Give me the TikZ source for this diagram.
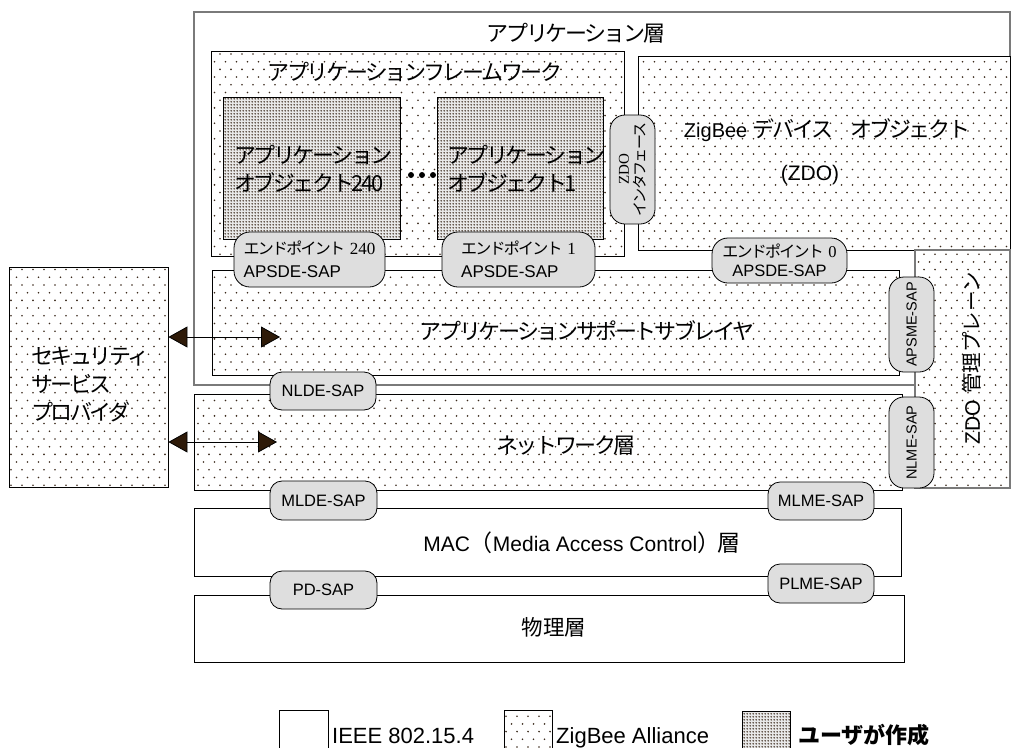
\documentclass[tikz,border=0pt]{standalone}
\usepackage{fontspec}
\setmainfont{Liberation Sans}
\newfontfamily\jp{Noto Sans CJK JP}[LetterSpace=-11]
\newfontfamily\jpw{Noto Sans CJK JP}
\newfontfamily\tms{Liberation Serif}
\usetikzlibrary{patterns,arrows.meta}

\definecolor{sapgray}{HTML}{DEDEDE}
\definecolor{dotbrown}{HTML}{3B2A1C}
\definecolor{framegray}{HTML}{7A7A7A}
\definecolor{arrowbrown}{HTML}{2E1A08}

% dot patterns of the layer boxes
\pgfdeclarepatternformonly{sparsedots}{\pgfqpoint{-1pt}{-1pt}}{\pgfqpoint{12pt}{16pt}}{\pgfqpoint{11pt}{15.4pt}}{%
  \pgfpathcircle{\pgfqpoint{0pt}{0pt}}{0.9pt}%
  \pgfpathcircle{\pgfqpoint{5.5pt}{7.7pt}}{0.9pt}%
  \pgfusepath{fill}}
\pgfdeclarepatternformonly{densedots}{\pgfqpoint{-0.5pt}{-0.5pt}}{\pgfqpoint{2.5pt}{2.5pt}}{\pgfqpoint{3pt}{3pt}}{%
  \pgfpathcircle{\pgfqpoint{1pt}{1pt}}{1pt}%
  \pgfusepath{fill}}

\tikzset{
  zbox/.style={draw=black, line width=0.8pt, preaction={fill=white}, pattern=sparsedots, pattern color=dotbrown},
  ubox/.style={draw=black, line width=0.8pt, preaction={fill=black!9}, pattern=densedots, pattern color=dotbrown},
  ibox/.style={draw=black, line width=0.8pt},
  sap/.style={draw=black, line width=0.8pt, fill=sapgray, rounded corners=12pt, inner sep=0pt,
    font=\fontsize{16.5}{20}\selectfont},
  epsap/.style={sap, rounded corners=16pt, font=\fontsize{17}{23}\selectfont},
  lbl/.style={inner sep=0pt, font=\jp\fontsize{22}{28}\selectfont},
  biarrow/.style={draw=black, line width=0.8pt,
    {Triangle[length=19pt,width=21pt,fill=arrowbrown]}-{Triangle[length=19pt,width=21pt,fill=arrowbrown]}}
}

\begin{document}
\begin{tikzpicture}[x=1pt,y=1pt]
\useasboundingbox (0,0) rectangle (1012,-747);

% application layer
\draw [draw=framegray, line width=1.3pt] (194,-12) rectangle (1010,-385);
\node [lbl] (applbl) at (576,-33) {アプリケーション層};

\draw [zbox] (211,-51) rectangle (624,-256);
\node [lbl] (fwlbl) at (415,-72) {アプリケーションフレームワーク};
\draw [ubox] (223,-97) rectangle (400,-239);
\draw [ubox] (437,-97) rectangle (603,-239);
\node [lbl, align=left, anchor=west] (obj240) at (234,-169) {アプリケーション\\オブジェクト240};
\node [lbl, align=left, anchor=west] (obj1) at (447,-169) {アプリケーション\\オブジェクト1};
\foreach \x in {411,422,433}
  \fill (\x,-175) circle (3);

\draw [zbox] (638,-56) rectangle (1010,-250);
\node [lbl, font=\fontsize{20}{24}\selectfont] (zdolbl) at (827,-130) {ZigBee {\jp\fontsize{22}{24}\selectfont デバイス　オブジェクト}};
\node [inner sep=0pt, font=\fontsize{21}{24}\selectfont] (zdoshort) at (810,-175) {(ZDO)};

\draw [zbox] (212,-270) rectangle (899,-375);
\node [lbl] (apslbl) at (587,-331) {アプリケーションサポートサブレイヤ};

% ZDO management plane
\draw [zbox, draw=framegray, line width=1.1pt] (915,-250) rectangle (1010,-488);
\node [inner sep=0pt, rotate=90, font=\fontsize{21}{24}\selectfont] (zdoplane) at (972,-358) {ZDO {\jpw\fontsize{20.5}{24}\selectfont 管理プレーン}};

% network, MAC and PHY layers
\draw [zbox] (194,-394) rectangle (902,-490);
\node [lbl] (nwklbl) at (566,-445) {ネットワーク層};
\draw [ibox] (194,-508) rectangle (901,-576);
\node [inner sep=0pt, font=\fontsize{21}{24}\selectfont] (maclbl) at (582,-543) {MAC{\jp\fontsize{23}{24}\selectfont （}Media Access Control{\jp\fontsize{23}{24}\selectfont ）層}};
\draw [ibox] (194,-595) rectangle (904,-662);
\node [lbl, font=\jpw\fontsize{21.5}{24}\selectfont] (phylbl) at (554,-627) {物理層};

% security service provider
\node [zbox, minimum width=159, minimum height=220, inner sep=0pt] (ssp) at (88.5,-377) {};
\node [lbl, align=left, anchor=west] (ssplbl) at (31,-385) {セキュリティ\\サービス\\プロバイダ};

% service access points
\node [sap, rotate=90, minimum width=109, minimum height=45, rounded corners=15pt, align=center,
  font=\fontsize{15}{16.5}\selectfont] (zdoif) at (632.5,-169.5) {{\tms ZDO}\\{\jp インタフェース}};
\node [epsap, minimum width=151, minimum height=55, align=left] (ep240) at (309.5,-259.5)
  {{\jp\fontsize{16}{23}\selectfont エンドポイント} {\tms 240}\\APSDE-SAP};
\node [epsap, minimum width=153, minimum height=55, align=left] (ep1) at (518.5,-259.5)
  {{\jp\fontsize{16}{23}\selectfont エンドポイント} {\tms 1}\\APSDE-SAP};
\node [epsap, minimum width=135, minimum height=45, align=center, font=\fontsize{16.5}{19}\selectfont] (ep0) at (779.5,-260.5)
  {{\jp\fontsize{16}{19}\selectfont エンドポイント} {\tms 0}\\APSDE-SAP};
\node [sap, rotate=90, minimum width=95, minimum height=45, rounded corners=15pt,
  font=\fontsize{14.5}{18}\selectfont] (apsme) at (911.5,-324.5) {APSME-SAP};
\node [sap, rotate=90, minimum width=91, minimum height=45, rounded corners=15pt,
  font=\fontsize{14.5}{18}\selectfont] (nlme) at (911.5,-442.5) {NLME-SAP};
\node [sap, minimum width=106, minimum height=38] (nlde) at (323,-391) {NLDE-SAP};
\node [sap, minimum width=107, minimum height=39] (mlde) at (323.5,-500.5) {MLDE-SAP};
\node [sap, minimum width=106, minimum height=38] (mlme) at (821,-501) {MLME-SAP};
\node [sap, minimum width=107, minimum height=38] (pdsap) at (323.5,-590) {PD-SAP};
\node [sap, minimum width=106, minimum height=39] (plme) at (821,-583.5) {PLME-SAP};

% links to the security service provider
\coordinate (apsport) at (280,-337);
\coordinate (nwkport) at (277,-442);
\draw [biarrow] (ssp.east |- apsport) -- (apsport);
\draw [biarrow] (ssp.east |- nwkport) -- (nwkport);

% legend
\draw [ibox] (279,-752) |- (328,-710) -- (328,-752);
\draw [zbox] (504,-752) rectangle (552,-710);
\draw [ubox] (742,-752) rectangle (790,-711);
\node [anchor=base west, inner sep=0pt, font=\fontsize{22}{24}\selectfont] (lgieee) at (332,-743) {IEEE 802.15.4};
\node [anchor=base west, inner sep=0pt, font=\fontsize{22}{24}\selectfont] (lgzb) at (556,-743) {ZigBee Alliance};
\node [anchor=base west, inner sep=0pt, font=\jpw\bfseries\fontsize{22}{24}\selectfont] (lguser) at (798,-743) {ユーザが作成};
\end{tikzpicture}
\end{document}
